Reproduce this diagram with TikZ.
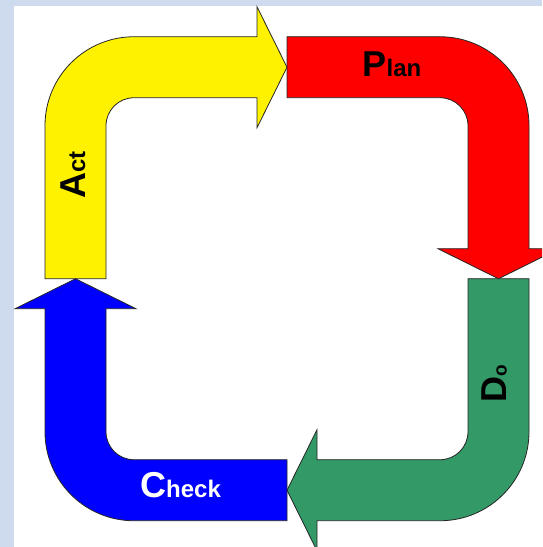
\documentclass[tikz,border=0pt]{standalone}
\usepackage{fontspec}
\setmainfont{Liberation Sans}
\usetikzlibrary{positioning}

\definecolor{pageblue}{RGB}{206,218,238}
\definecolor{dogreen}{RGB}{51,153,102}

\newcommand{\bigletter}{\fontsize{36}{37}\selectfont\bfseries}
\newcommand{\smallletters}{\fontsize{24}{25}\selectfont\bfseries}
\newcommand{\tinyletters}{\fontsize{19}{20}\selectfont\bfseries}

\begin{document}
\begin{tikzpicture}[
    x=1pt, y=1pt,
    steparrow/.style={draw=black!85, line width=0.8pt, line join=miter},
    word/.style={inner sep=0pt, anchor=base}
]
    \useasboundingbox (0,0) rectangle (542,547);
    \clip (0,0) rectangle (542,547);
    \fill[pageblue] (0,0) rectangle (542,547);
    \fill[white] (14,0) rectangle (542,541);

    % one bent arrow, turned a quarter for each step
    \foreach \ang/\col in {0/yellow, -90/red, -180/dogreen, -270/blue} {
        \begin{scope}[shift={(287,268.25)}, rotate=\ang]
            \filldraw[steparrow, fill=\col] (-242,0) -- (-242,153)
                arc[start angle=180, end angle=90, radius=89] -- (-30,242)
                -- (-30,272) -- (0,211.5) -- (-30,151) -- (-30,181) -- (-153,181)
                arc[start angle=90, end angle=180, radius=28] -- (-181,0) -- cycle;
        \end{scope}
    }

    \node[word] (plan) at (392,470) {\bigletter P\smallletters lan};
    \node[word, rotate=90] (do) at (506.5,163.5) {\bigletter D\tinyletters o};
    \node[word, text=white] (check) at (180.5,49) {\bigletter C\smallletters heck};
    \node[word, rotate=90] (act) at (85,372) {\bigletter A\smallletters ct};
\end{tikzpicture}
\end{document}
